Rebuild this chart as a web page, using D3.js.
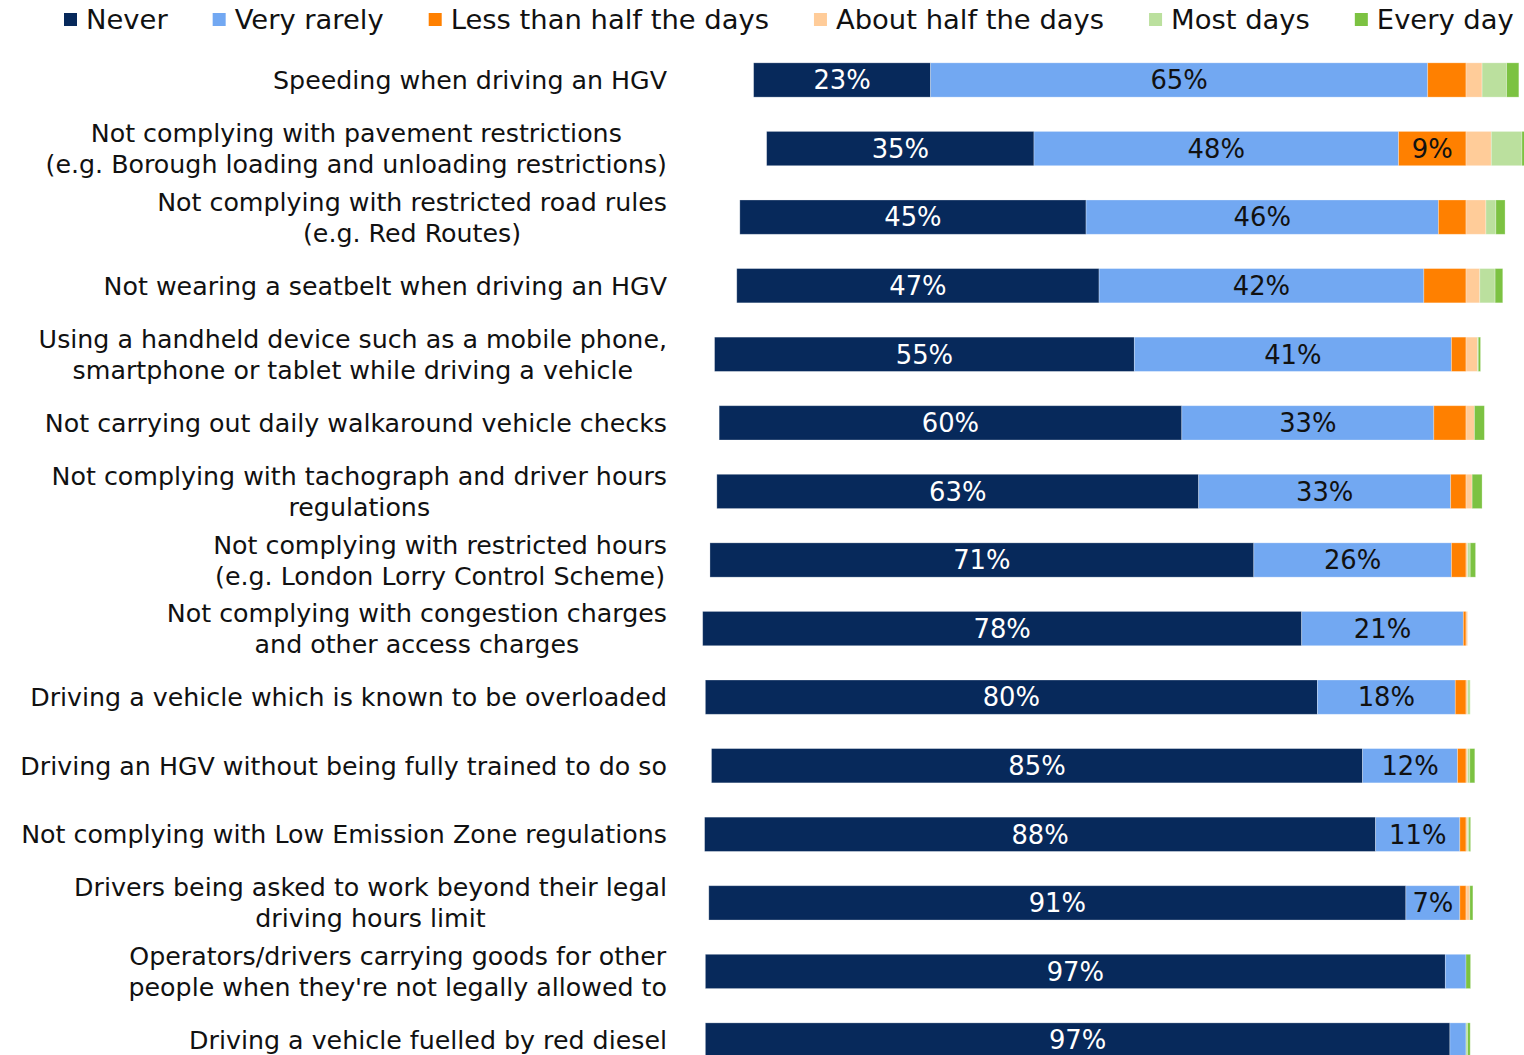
<!DOCTYPE html>
<html>
<head>
<meta charset="utf-8">
<script src="https://cdn.jsdelivr.net/npm/d3@7"></script>
<style>
  body { margin: 0; background: #fff; }
  svg text { font-family: "DejaVu Sans", Verdana, sans-serif; }
</style>
</head>
<body>
<svg id="chart" width="1524" height="1055"></svg>
<script>
// categories, top to bottom
var categories = [
  "Speeding when driving an HGV",
  "Not complying with pavement restrictions\n(e.g. Borough loading and unloading restrictions)",
  "Not complying with restricted road rules\n(e.g. Red Routes)",
  "Not wearing a seatbelt when driving an HGV",
  "Using a handheld device such as a mobile phone,\nsmartphone or tablet while driving a vehicle",
  "Not carrying out daily walkaround vehicle checks",
  "Not complying with tachograph and driver hours\nregulations",
  "Not complying with restricted hours\n(e.g. London Lorry Control Scheme)",
  "Not complying with congestion charges\nand other access charges",
  "Driving a vehicle which is known to be overloaded",
  "Driving an HGV without being fully trained to do so",
  "Not complying with Low Emission Zone regulations",
  "Drivers being asked to work beyond their legal\ndriving hours limit",
  "Operators/drivers carrying goods for other\npeople when they're not legally allowed to",
  "Driving a vehicle fuelled by red diesel"
];

var seriesNames = ["Never", "Very rarely", "Less than half the days", "About half the days", "Most days", "Every day"];
var seriesColors = ["#07295b", "#72a8f2", "#ff8000", "#ffcc99", "#bbe09e", "#7cc242"];
var labelColors = ["#ffffff", "#111111", "#111111", "#111111", "#111111", "#111111"];

// percentages
var never     = [23.1, 34.9, 45.2, 47.3, 54.8, 60.4, 62.9, 71.0, 78.2, 79.9, 85.0, 87.6, 91.0, 96.6, 97.2];
var veryRarely = [64.9, 47.6, 46.0, 42.4, 41.4, 32.9, 32.9, 25.8, 21.1, 18.0, 12.4, 11.0, 7.05, 2.7, 2.1];
var lessHalf  = [5.0, 8.8, 3.6, 5.5, 1.9, 4.2, 2.0, 1.9, 0.35, 1.4, 1.1, 0.8, 0.8, 0, 0];
var aboutHalf = [2.1, 3.3, 2.6, 1.8, 1.5, 1.1, 0.8, 0.2, 0.2, 0.2, 0.2, 0.2, 0.5, 0, 0];
var mostDays  = [3.2, 4.0, 1.3, 2.0, 0.1, 0, 0, 0.35, 0, 0.35, 0.3, 0.2, 0, 0, 0.2];
var everyDay  = [1.6, 1.4, 1.2, 1.0, 0.3, 1.3, 1.3, 0.7, 0, 0, 0.65, 0.2, 0.4, 0.6, 0.35];

var values = [never, veryRarely, lessHalf, aboutHalf, mostDays, everyDay];

var svg = d3.select("#chart");
var fontSize = 25.8;      // value labels
var catFont = 25.3;       // category labels
var legendFont = 27.4;

// bars are aligned on the boundary between "less than half" and "about half"
var x = d3.scaleLinear().domain([-100, 0]).range([700, 1466]);
var y = d3.scaleBand().domain(d3.range(categories.length))
    .range([45.7, 1074.3]).paddingInner(0.5).paddingOuter(0.25);

var rows = categories.map(function(c, i){
    var pivot = never[i] + veryRarely[i] + lessHalf[i];
    var acc = -pivot;
    return values.map(function(arr, s){
        var seg = {row: i, s: s, v: arr[i], x0: acc, x1: acc + arr[i]};
        acc += arr[i];
        return seg;
    });
});

svg.append("g").selectAll("rect")
    .data(d3.merge(rows).filter(function(d){ return d.v > 0; }))
    .enter().append("rect")
    .attr("x", function(d){ return x(d.x0); })
    .attr("y", function(d){ return y(d.row); })
    .attr("width", function(d){ return x(d.x1) - x(d.x0); })
    .attr("height", y.bandwidth())
    .attr("fill", function(d){ return seriesColors[d.s]; })
    .attr("stroke", "rgba(255,255,255,0.35)")
    .attr("stroke-width", 0.8);

svg.append("g").selectAll("text")
    .data(d3.merge(rows).filter(function(d){ return Math.round(d.v) >= 7; }))
    .enter().append("text")
    .attr("x", function(d){ return (x(d.x0) + x(d.x1)) / 2; })
    .attr("y", function(d){ return y(d.row) + y.bandwidth() / 2; })
    .attr("dy", "0.36em")
    .attr("text-anchor", "middle")
    .attr("font-size", fontSize)
    .attr("fill", function(d){ return labelColors[d.s]; })
    .text(function(d){ return Math.round(d.v) + "%"; });

// category labels: lines centred on each other, block right-aligned
var labelRight = 667;
var lineH = 31;
categories.forEach(function(c, i){
    var lines = c.split("\n");
    var g = svg.append("text")
        .attr("font-size", catFont)
        .attr("fill", "#111")
        .attr("text-anchor", "middle");
    var tspans = lines.map(function(l, k){
        return g.append("tspan")
            .attr("y", y(i) + y.bandwidth() / 2 + (k - (lines.length - 1) / 2) * lineH)
            .attr("dy", "0.36em")
            .text(l);
    });
    var w = d3.max(tspans, function(t){ return t.node().getComputedTextLength(); });
    tspans.forEach(function(t){ t.attr("x", labelRight - w / 2); });
});

// legend
var lx = 64;
var legend = svg.append("g");
seriesNames.forEach(function(n, s){
    legend.append("rect")
        .attr("x", lx).attr("y", 13)
        .attr("width", 13).attr("height", 13)
        .attr("fill", seriesColors[s]);
    var t = legend.append("text")
        .attr("x", lx + 22).attr("y", 19)
        .attr("dy", "0.36em")
        .attr("font-size", legendFont)
        .attr("fill", "#111")
        .text(n);
    lx += 22 + t.node().getComputedTextLength() + 45;
});
</script>
</body>
</html>
